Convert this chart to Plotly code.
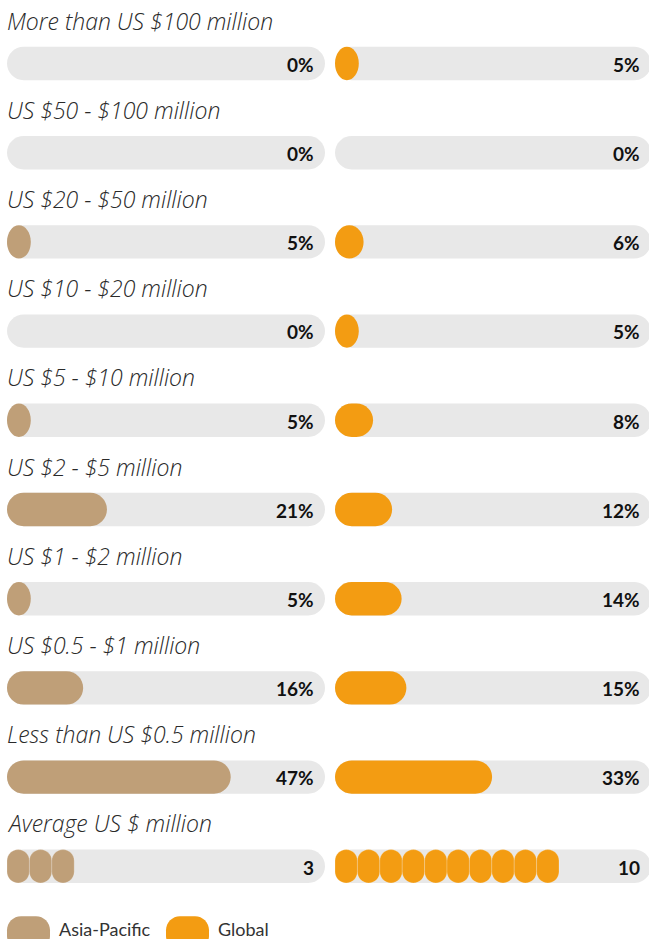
import plotly.graph_objects as go

# Deal size bands, share of deals (%) per region
categories = [
    "More than US $100 million",
    "US $50 - $100 million",
    "US $20 - $50 million",
    "US $10 - $20 million",
    "US $5 - $10 million",
    "US $2 - $5 million",
    "US $1 - $2 million",
    "US $0.5 - $1 million",
    "Less than US $0.5 million",
]
asia_pacific = [0, 0, 5, 0, 5, 21, 5, 16, 47]
global_share = [5, 0, 6, 5, 8, 12, 14, 15, 33]

# Average deal size (US $ million), one pill per million
average_label = "Average US $ million"
average_asia = 3
average_global = 10

series_names = ["Asia-Pacific", "Global"]

# Styling / geometry
W, H = 649, 939
PX_PER_PCT = 4.76            # horizontal pixels per percentage point
ROW_PX = 89.2                # vertical distance between rows
FIRST_ROW_PX = 63.5          # centre of the first bar track
BAR_PX = 33.4                # bar thickness
PILL_PX = 22.4               # width of one "average" pill
COL_LEFT = [(7, 325), (335, 651)]   # pixel span of each column's track
COLORS = ["#BF9F78", "#F39C12"]
TRACK = "#E8E8E8"
K = 0.5523                   # cubic bezier quarter-ellipse constant

y_top = -FIRST_ROW_PX / ROW_PX
y_bot = (H - FIRST_ROW_PX) / ROW_PX
HH = BAR_PX / 2 / ROW_PX     # half bar height in y units


def rounded(x0, x1, yc, hh, rx, ry):
    """Closed path of a rounded rectangle (elliptical corners) in data units."""
    yt, yb = yc - hh, yc + hh
    p = [
        f"M{x0 + rx},{yt}",
        f"L{x1 - rx},{yt}",
        f"C{x1 - rx + K * rx},{yt} {x1},{yt + ry - K * ry} {x1},{yt + ry}",
        f"L{x1},{yb - ry}",
        f"C{x1},{yb - ry + K * ry} {x1 - rx + K * rx},{yb} {x1 - rx},{yb}",
        f"L{x0 + rx},{yb}",
        f"C{x0 + rx - K * rx},{yb} {x0},{yb - ry + K * ry} {x0},{yb - ry}",
        f"L{x0},{yt + ry}",
        f"C{x0},{yt + ry - K * ry} {x0 + rx - K * rx},{yt} {x0 + rx},{yt}",
        "Z",
    ]
    return " ".join(p)


fig = go.Figure()
shapes, annotations = [], []

axes = ["x", "x2"]
track_units = [(b - a) / PX_PER_PCT for a, b in COL_LEFT]
cap = BAR_PX / 2 / PX_PER_PCT

rows = list(zip(asia_pacific, global_share))
for i, cat in enumerate(categories + [average_label]):
    annotations.append(dict(
        xref="paper", yref="y", x=5 / W, y=i - 43 / ROW_PX,
        xanchor="left", yanchor="middle", showarrow=False, text=cat,
        font=dict(family="Open Sans", size=23, style="italic", weight=300, color="#2A2A2A"),
    ))
    for c in range(2):
        ax = axes[c]
        tu = track_units[c]
        shapes.append(dict(type="path", xref=ax, yref="y", layer="below",
                           path=rounded(0, tu, i, HH, cap, HH),
                           fillcolor=TRACK, line=dict(width=0)))
        if i < len(categories):
            v = rows[i][c]
            if v > 0:
                L = v
                rx = min(cap, L / 2)
                shapes.append(dict(type="path", xref=ax, yref="y",
                                   path=rounded(0, L, i, HH, rx, HH),
                                   fillcolor=COLORS[c], line=dict(width=0)))
            label = f"{v}%"
        else:
            v = [average_asia, average_global][c]
            pw = PILL_PX / PX_PER_PCT
            ry = PILL_PX / 2 / ROW_PX
            for k in range(v):
                shapes.append(dict(type="path", xref=ax, yref="y",
                                   path=rounded(k * pw, (k + 1) * pw, i, HH, pw / 2, ry),
                                   fillcolor=COLORS[c],
                                   line=dict(width=0.6, color="rgba(255,255,255,0.35)")))
            label = f"{v}"
        annotations.append(dict(
            xref=ax, yref="y", x=tu - 9 / PX_PER_PCT, y=i + 0.01,
            xanchor="right", yanchor="middle", showarrow=False, text=label,
            font=dict(family="Lato", size=19, weight=700, color="#111111"),
        ))

# Legend: coloured pills with series names
legend_items = [(7, 50, 57), (166, 209, 216)]
for (a, b, tx), name, col in zip(legend_items, series_names, COLORS):
    yc = 933
    shapes.append(dict(type="path", xref="paper", yref="paper",
                       path=rounded(a / W, b / W, 1 - yc / H, BAR_PX / 2 / H,
                                    14 / W, 14 / H),
                       fillcolor=col, line=dict(width=0)))
    annotations.append(dict(
        xref="paper", yref="paper", x=tx / W, y=1 - 929 / H,
        xanchor="left", yanchor="middle", showarrow=False, text=name,
        font=dict(family="Lato", size=18, weight=400, color="#333333"),
    ))

fig.update_layout(
    width=W, height=H, autosize=False,
    margin=dict(l=0, r=0, t=0, b=0),
    paper_bgcolor="white", plot_bgcolor="white",
    showlegend=False,
    shapes=shapes, annotations=annotations,
    xaxis=dict(domain=[COL_LEFT[0][0] / W, COL_LEFT[0][1] / W],
               range=[0, track_units[0]], visible=False, fixedrange=True),
    xaxis2=dict(domain=[COL_LEFT[1][0] / W, 1],
                range=[0, (W - COL_LEFT[1][0]) / PX_PER_PCT],
                anchor="y", visible=False, fixedrange=True),
    yaxis=dict(domain=[0, 1], range=[y_bot, y_top], visible=False, fixedrange=True),
)

fig.write_html("out.html")
